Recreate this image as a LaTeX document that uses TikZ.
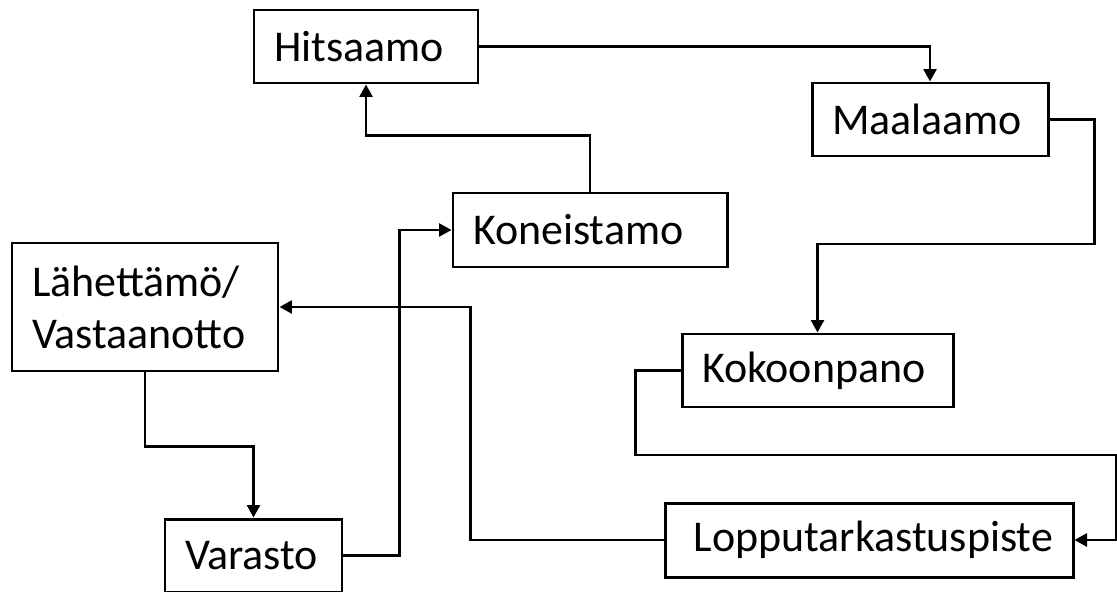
\documentclass[tikz,border=0pt]{standalone}
\usepackage{fontspec}
\setmainfont{Carlito}
\usetikzlibrary{arrows.meta, positioning}
\tikzset{
        ->, % every connector is directed
        >={Triangle[length=0.25cm,width=0.26cm]}, % small filled arrow heads
        every node/.style={font=\fontsize{25}{29.6}\selectfont}, % text size in the boxes
    }
\tikzstyle{dept}=[draw, line width=1.7pt, inner xsep=0.4cm, inner ysep=0pt, minimum height=1.46cm, align=left]

\begin{document}
\begin{tikzpicture}[line width=1.5pt]
    \useasboundingbox (0,0) rectangle (22.34,11.82);

    \node[dept, text width=3.68cm] (hit) at (7.32,10.89) {Hitsaamo};
    \node[dept, text width=3.92cm] (maa) at (18.60,9.43) {Maalaamo};
    \node[dept, text width=4.68cm, minimum height=1.48cm] (kon) at (11.80,7.22) {Koneistamo};
    \node[dept, text width=4.52cm, minimum height=2.56cm] (lah) at (2.90,5.68) {Lähettämö/\\Vastaanotto};
    \node[dept, text width=4.62cm] (kok) at (16.35,4.41) {Kokoonpano};
    \node[dept, text width=2.74cm] (var) at (5.07,0.71) {Varasto};
    \node[dept, text width=7.36cm, align=right, minimum height=1.48cm] (lop) at (17.38,1.02) {Lopputarkastuspiste};

    \draw (hit.east) -| (maa.north);
    \draw (maa.east) -| ++(0.9,-2.49) -| (kok.north);
    \draw (kok.west) -| ++(-0.9,-1.69) -| ([xshift=0.84cm]lop.east) -- (lop.east);
    \draw (lop.west) -- ++(-3.86,0) |- (lah.east);
    \draw (lah.south) -- ++(0,-1.48) -| (var.north);
    \draw (var.east) -- ++(1.12,0) |- (kon.west);
    \draw (kon.north) -- ++(0,1.12) -| (hit.south);
\end{tikzpicture}
\end{document}
